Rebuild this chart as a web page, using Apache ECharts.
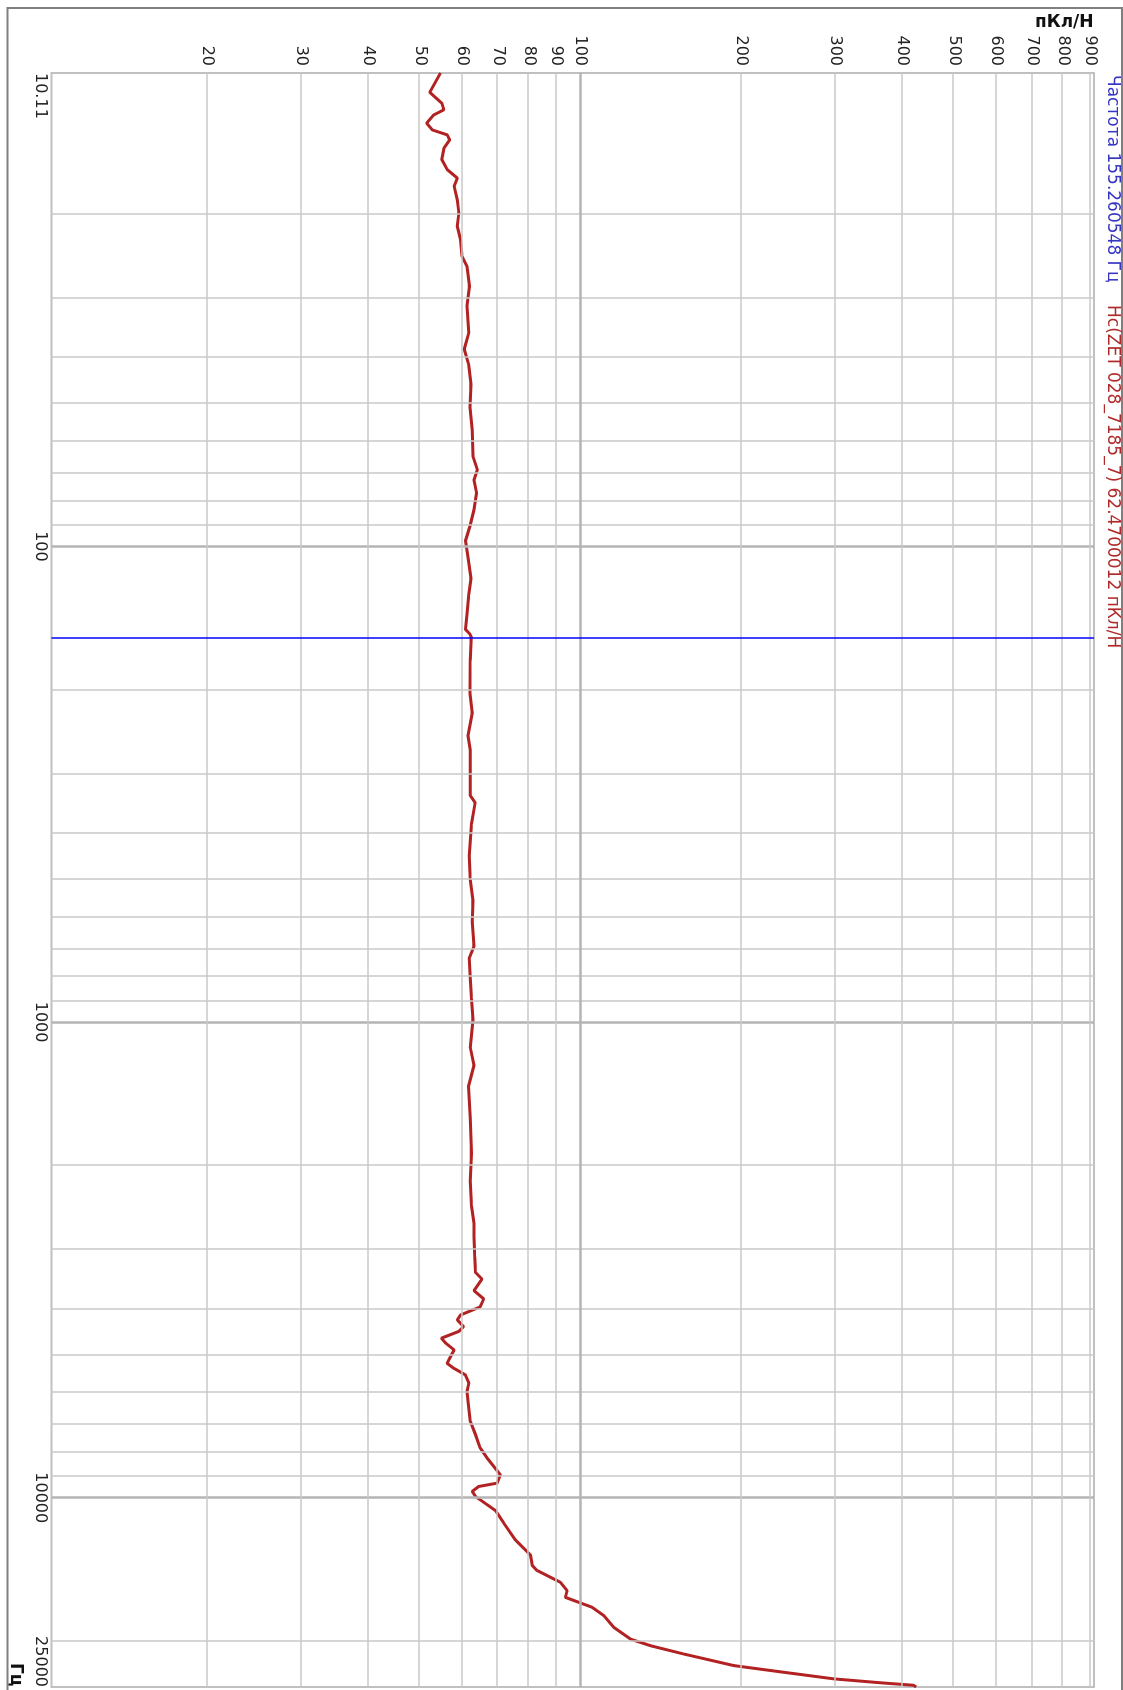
<!DOCTYPE html>
<html>
<head>
<meta charset="utf-8">
<script src="https://cdn.jsdelivr.net/npm/echarts@6/dist/echarts.min.js"></script>
<style>
  html, body { margin: 0; padding: 0; background: #fff; overflow: hidden; }
  /* the chart is laid out normally and turned a quarter turn clockwise */
  #container {
    position: absolute; left: 0; top: 0;
    width: 1690px; height: 1123px;
    transform-origin: 0 0;
    transform: translate(1123px, 0) rotate(90deg);
  }
</style>
</head>
<body>
<div id="container"></div>
<script>
// frequency, Hz
var freqHz = [10.11, 11.1, 11.7, 12.08, 12.39, 12.89, 13.32, 13.64, 13.97, 14.54, 15.38, 16.14, 16.81, 17.49, 18.66, 19.9, 21.22, 22.64, 24.54, 25.76, 28.37, 31.2,
    35.5, 38.5, 41.6, 45.6, 51, 57, 64.6, 69, 72.5, 77.3, 83.7, 90.6, 97.3, 104.5, 116.8, 126.4, 138.9, 149.4, 152.9, 155.26, 173.8, 204, 224,
    250, 268, 334, 346, 383, 447, 502, 556, 616, 692, 735, 807, 894, 989, 1133, 1233, 1365, 1590, 1886, 2160, 2435, 2650, 2835, 3110, 3360,
    3470, 3670, 3820, 3970, 4130, 4230, 4370, 4470, 4620, 4730, 4890, 5130, 5220, 5350, 5520, 5740, 5980, 6480, 6910, 7370, 7860, 8260, 8950,
    9320, 9470, 9700, 9940, 10640, 11300, 12280, 13200, 13870, 14220, 15060, 15680, 16200, 17000, 17700, 18740, 19830, 20470, 21310, 22540,
    23280, 24040, 24530, 24790, 25000];
// Hc, pC/N
var sensPcN = [54.7, 52.2, 55.0, 55.5, 53.1, 51.5, 52.8, 56.3, 56.9, 55.5, 55.0, 56.3, 58.8, 58.0, 58.8, 59.2, 58.8, 59.6, 60.0, 61.3, 62.0, 61.3,
    61.8, 60.6, 61.8, 62.4, 62.1, 62.7, 62.9, 64.1, 63.2, 63.9, 63.2, 62.1, 60.9, 61.5, 62.4, 61.8, 61.3, 60.9, 62.1, 62.47, 62.2, 62.1, 62.7,
    61.6, 62.2, 62.2, 63.5, 62.5, 61.9, 62.2, 62.9, 62.7, 63.2, 61.9, 62.2, 62.5, 62.9, 62.2, 63.2, 61.7, 62.2, 62.5, 62.2, 62.5, 63.2, 63.2, 63.4, 63.6,
    65.4, 63.2, 65.9, 64.9, 59.6, 58.8, 60.4, 59.2, 54.9, 55.9, 58.0, 56.7, 56.3, 58.0, 60.9, 61.8, 61.3, 61.8, 62.2, 63.6, 64.9, 66.9, 70.8,
    69.8, 64.5, 62.7, 63.6, 69.3, 71.8, 75.6, 80.6, 81.2, 82.9, 91.7, 94.4, 93.7, 105.2, 110.6, 115.5, 124.1, 135.2, 156.1, 193.7,
    240.3, 298.5, 370.5, 420.4, 425];

var freqLabels = [10.11, 100, 1000, 10000, 25000];
var sensLabels = [20, 30, 40, 50, 60, 70, 80, 90, 100, 200, 300, 400, 500, 600, 700, 800, 900];
var freqGrid = [20, 30, 40, 50, 60, 70, 80, 90, 100, 200, 300, 400, 500, 600, 700, 800, 900,
    1000, 2000, 3000, 4000, 5000, 6000, 7000, 8000, 9000, 10000, 20000];
var sensGrid = [20, 30, 40, 50, 60, 70, 80, 90, 100, 200, 300, 400, 500, 600, 700, 800, 900];
var majorFreq = [100, 1000, 10000];
var majorSens = [100];
var cursorHz = 155.260548;
var cursorValue = 62.4700012;

var dom = document.getElementById("container");
var myChart = echarts.init(dom, null, { renderer: "canvas" });

var minorLine = { color: "#c8c8c8", width: 1.5, type: "solid" };
var majorLine = { color: "#b4b4b4", width: 2.5, type: "solid" };

var gridMarks = [];
freqGrid.forEach(function (f) {
    gridMarks.push({ xAxis: f, lineStyle: majorFreq.indexOf(f) >= 0 ? majorLine : minorLine });
});
sensGrid.forEach(function (s) {
    gridMarks.push({ yAxis: s, lineStyle: majorSens.indexOf(s) >= 0 ? majorLine : minorLine });
});
// cursor
gridMarks.push({ xAxis: cursorHz, lineStyle: { color: "#0000ff", width: 1.5, type: "solid" } });

var curve = freqHz.map(function (f, i) { return [f, sensPcN[i]]; });

var option = {
    animation: false,
    grid: {
        show: true,
        left: 73,
        top: 29,
        width: 1619,
        height: 1042.5,
        borderColor: "#c0c0c0",
        borderWidth: 2
    },
    xAxis: {
        type: "log",
        min: 10.11,
        max: 25000,
        axisLine: { show: false },
        axisTick: { show: false },
        splitLine: { show: false },
        axisLabel: {
            customValues: freqLabels,
            alignMinLabel: "left",
            alignMaxLabel: "right",
            margin: 3,
            color: "#222",
            fontFamily: "DejaVu Sans",
            fontSize: 16,
            formatter: function (v) { return String(Math.round(v * 100) / 100); }
        }
    },
    yAxis: {
        type: "log",
        min: 10.22,
        max: 915.5,
        axisLine: { show: false },
        axisTick: { show: false },
        splitLine: { show: false },
        axisLabel: {
            customValues: sensLabels,
            margin: 7,
            color: "#222",
            fontFamily: "DejaVu Sans",
            fontSize: 16,
            formatter: function (v) { return String(Math.round(v)); }
        }
    },
    graphic: [
        {
            type: "rect",
            shape: { x: 8, y: 1, width: 1700, height: 1114.5 },
            style: { fill: "none", stroke: "#808080", lineWidth: 2 },
            silent: true
        },
        {
            type: "text",
            x: 75, y: 2,
            style: {
                text: "Частота " + cursorHz + " Гц",
                fill: "#3535c4",
                font: "17px 'DejaVu Sans'"
            }
        },
        {
            type: "text",
            x: 305, y: 2,
            style: {
                text: "Hc(ZET 028_7185_7) " + cursorValue + " пКл/Н",
                fill: "#b02a2a",
                font: "17px 'DejaVu Sans'"
            }
        },
        {
            type: "text",
            x: 31, y: 88,
            rotation: Math.PI / 2,
            style: {
                text: "пКл/Н",
                fill: "#111",
                font: "bold 17px 'DejaVu Sans'",
                align: "left",
                verticalAlign: "bottom"
            }
        },
        {
            type: "text",
            x: 1663, y: 1099,
            style: {
                text: "Гц",
                fill: "#111",
                font: "bold 17px 'DejaVu Sans'"
            }
        }
    ],
    series: [
        {
            name: "grid",
            type: "line",
            data: [],
            silent: true,
            z: 1,
            markLine: {
                silent: true,
                symbol: ["none", "none"],
                label: { show: false },
                data: gridMarks
            }
        },
        {
            name: "Hc",
            type: "line",
            data: curve,
            z: 3,
            showSymbol: false,
            smooth: false,
            lineStyle: { color: "#b22222", width: 3 }
        }
    ]
};

if (option && typeof option === "object") {
    myChart.setOption(option);
}

window.addEventListener("resize", myChart.resize);
</script>
</body>
</html>
